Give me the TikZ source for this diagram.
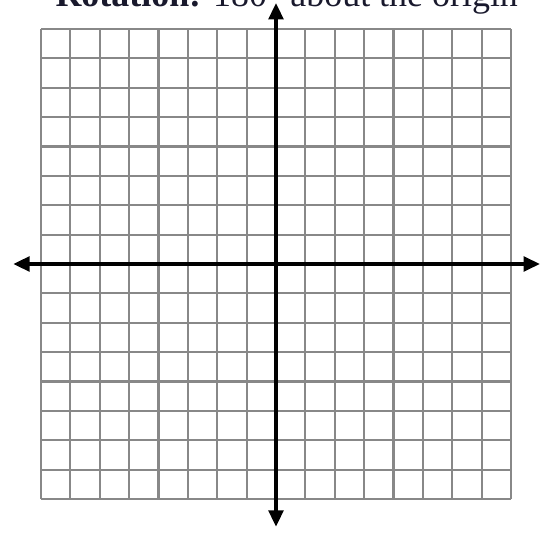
\documentclass[tikz,border=0pt]{standalone}
\usepackage{fontspec}
\setmainfont{Liberation Serif}
\usetikzlibrary{arrows.meta}
\definecolor{gridline}{RGB}{136,136,136}
\definecolor{heading}{RGB}{25,25,45}

\begin{document}
\begin{tikzpicture}[x=0.5cm,y=0.5cm]
  \useasboundingbox (-9.396,-9.26) rectangle (9.157,8.987);
  \node[anchor=base west,inner sep=0pt,heading,font=\fontsize{17.4}{20}\selectfont] (title) at (-7.52,8.749)
    {\textbf{Rotation:} 180° about the origin};
  \fill[white] (-8,-8) rectangle (8,8);
  \draw[gridline,line width=1pt,step=0.5cm] (-8,-8) grid (8,8);
  \coordinate (xmin) at (-8.95,0);
  \coordinate (xmax) at (8.99,0);
  \coordinate (ymin) at (0,-8.95);
  \coordinate (ymax) at (0,8.89);
  \draw[line width=1.9pt,{Triangle[length=8pt,width=7pt]}-{Triangle[length=8pt,width=7pt]}] (xmin) -- (xmax);
  \draw[line width=1.9pt,{Triangle[length=8pt,width=7pt]}-{Triangle[length=8pt,width=7pt]}] (ymin) -- (ymax);
\end{tikzpicture}
\end{document}
